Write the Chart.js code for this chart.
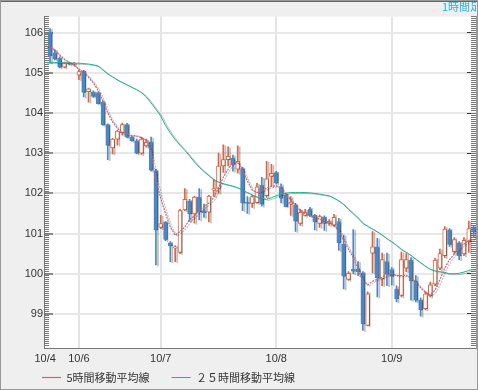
<!DOCTYPE html>
<html><head><meta charset="utf-8">
<script src="https://cdn.jsdelivr.net/npm/chart.js@4.4.1/dist/chart.umd.min.js"></script>
<style>html,body{margin:0;padding:0;background:#efefef;overflow:hidden}</style>
</head><body>
<canvas id="c" width="478" height="390"></canvas>
<script>
// ---- data ----
const dayTickIndex = [0, 7, 24, 48, 72];
const dayLabels = ['10/4', '10/6', '10/7', '10/8', '10/9'];
const opens  = [null,106.02,105.50,105.36,105.14,105.24,105.22,104.94,105.04,104.53,104.52,104.51,104.27,103.71,103.13,103.35,103.51,103.71,103.40,103.31,103.00,103.18,103.28,102.56,101.15,101.29,100.77,100.64,100.53,101.59,101.81,101.49,101.91,101.57,101.53,102.08,102.12,102.68,102.84,102.88,102.60,102.61,101.78,101.75,101.77,102.20,101.94,102.42,102.52,102.16,101.96,101.73,101.70,101.25,101.45,101.61,101.45,101.25,101.41,101.25,101.21,101.30,100.73,99.86,100.11,100.12,100.02,98.71,100.51,100.67,99.87,100.30,100.10,99.62,99.46,100.14,100.34,99.82,99.34,99.13,99.46,99.74,100.14,100.45,101.09,100.55,100.77,100.49,100.80,101.15];
const highs  = [null,106.10,105.57,105.40,105.27,105.27,105.26,105.06,105.06,104.62,104.55,104.53,104.30,103.73,103.37,103.57,103.75,103.74,103.42,103.35,103.40,103.35,103.40,102.60,101.45,101.30,100.80,100.70,101.60,102.12,101.85,101.93,102.12,101.73,101.95,102.34,103.00,103.21,103.16,102.95,103.18,102.65,101.92,101.95,102.25,102.40,102.80,102.72,102.55,102.24,102.00,101.92,101.75,101.60,101.60,101.65,101.48,101.46,101.44,101.35,101.48,101.38,100.96,100.05,101.10,100.30,100.05,99.55,101.05,100.88,100.51,100.51,100.15,99.70,100.54,100.50,100.40,99.95,99.40,99.55,99.79,100.39,100.61,101.17,101.12,100.90,100.80,100.90,101.31,101.20];
const lows   = [null,105.25,105.32,105.12,105.12,105.20,105.19,104.83,104.40,104.27,104.39,104.22,103.69,102.84,102.98,103.20,103.45,103.38,103.29,102.98,102.97,103.15,102.55,100.22,101.12,100.82,100.30,100.30,100.50,101.57,101.30,101.26,101.34,101.40,101.29,101.93,102.00,102.52,102.68,102.55,102.50,101.57,101.50,101.65,101.75,101.68,101.90,102.18,102.23,101.76,101.66,101.45,101.05,101.20,101.43,101.42,101.09,101.15,101.08,101.20,101.18,100.58,99.62,99.83,100.00,99.95,98.59,98.70,100.02,99.42,99.70,99.70,99.72,99.30,99.42,100.05,99.34,99.30,98.94,99.10,99.42,99.70,100.10,100.40,100.68,100.50,100.35,100.45,100.53,100.90];
const closes = [null,105.42,105.34,105.14,105.24,105.22,105.23,105.03,104.51,104.60,104.41,104.23,103.71,103.19,103.35,103.55,103.71,103.40,103.31,103.00,103.35,103.27,102.58,101.09,101.25,100.85,100.69,100.67,101.57,101.85,101.49,101.91,101.54,101.52,101.93,102.12,102.68,102.84,102.92,102.72,102.80,101.76,101.75,101.92,102.16,101.73,102.36,102.50,102.26,101.88,101.67,101.78,101.31,101.53,101.53,101.45,101.29,101.42,101.25,101.30,101.40,100.77,99.94,100.01,100.06,100.05,98.75,99.50,100.67,99.90,100.35,99.98,99.93,99.38,100.35,100.35,99.82,99.34,99.10,99.50,99.72,100.34,100.50,101.11,100.73,100.85,100.45,100.83,101.12,101.04];
const ma5  = [105.66,105.67,105.55,105.44,105.33,105.26,105.18,105.09,105.01,104.89,104.75,104.56,104.30,104.00,103.78,103.62,103.51,103.47,103.44,103.43,103.39,103.32,103.00,102.35,101.88,101.50,101.16,100.96,101.05,101.16,101.35,101.44,101.57,101.67,101.76,101.89,102.14,102.40,102.60,102.78,102.77,102.57,102.31,102.08,102.02,102.07,102.13,102.17,102.19,102.13,101.97,101.84,101.69,101.57,101.50,101.45,101.40,101.36,101.32,101.28,101.19,101.07,100.83,100.61,100.40,100.10,99.82,99.72,99.81,99.86,99.91,99.97,100.01,99.95,99.95,99.96,99.89,99.78,99.65,99.53,99.47,99.59,99.85,100.14,100.35,100.49,100.65,100.74,100.83,100.85];
const ma25 = [105.26,105.26,105.26,105.25,105.25,105.25,105.24,105.24,105.23,105.22,105.20,105.17,105.07,104.97,104.90,104.82,104.76,104.70,104.64,104.58,104.51,104.40,104.25,104.09,103.92,103.69,103.50,103.34,103.20,103.07,102.93,102.78,102.65,102.54,102.44,102.34,102.28,102.24,102.21,102.18,102.14,102.07,102.02,101.96,101.91,101.88,101.85,101.89,101.94,101.98,102.00,102.02,102.02,102.02,102.02,102.01,102.00,101.98,101.96,101.94,101.88,101.81,101.72,101.60,101.49,101.38,101.25,101.18,101.11,101.04,100.96,100.87,100.79,100.70,100.60,100.53,100.45,100.36,100.27,100.18,100.11,100.07,100.05,100.03,100.00,100.00,100.01,100.04,100.08,100.11];
const seriesNames = ['5時間移動平均線', '２５時間移動平均線'];
const timeframeLabel = '1時間足';

// ---- build library datasets ----
const BLUE = '#4a87c5', RED = '#e0623e';
const idx = opens.map((o, i) => i).filter(i => opens[i] !== null);
const isUp = idx.map(i => closes[i] >= opens[i]);
const wickData = idx.map(i => ({x: i, y: [lows[i], highs[i]]}));
const bodyData = idx.map(i => ({x: i, y: [opens[i], closes[i]]}));

const bgPlugin = {
  id: 'bg',
  beforeDraw(chart) {
    const {ctx, chartArea: a} = chart;
    ctx.save();
    ctx.fillStyle = '#efefef';
    ctx.fillRect(0, 0, chart.width, chart.height);
    ctx.fillStyle = '#ffffff';
    ctx.fillRect(a.left, a.top, a.right - a.left, a.bottom - a.top);
    ctx.restore();
  },
  beforeDatasetDraw(chart, args) {
    const ctx = chart.ctx;
    ctx.save();
    ctx.shadowColor = 'rgba(0,0,0,0.25)';
    ctx.shadowOffsetX = 2;
    ctx.shadowOffsetY = 1;
    ctx.shadowBlur = 0;
  },
  afterDatasetDraw(chart) { chart.ctx.restore(); },
  afterDraw(chart) {
    const {ctx, chartArea: a} = chart;
    ctx.save();
    ctx.beginPath();
    ctx.rect(a.left, 0, a.right - a.left, a.bottom);
    ctx.clip();
    ctx.fillStyle = '#2aaee6';
    ctx.font = '11px "Noto Sans CJK JP", sans-serif';
    ctx.textBaseline = 'top';
    ctx.fillText(timeframeLabel, 442, 1);
    ctx.restore();
    ctx.save();
    ctx.strokeStyle = '#666';
    ctx.lineWidth = 2;
    ctx.beginPath(); ctx.moveTo(0, 1); ctx.lineTo(chart.width, 1); ctx.stroke();
    ctx.strokeStyle = '#999';
    ctx.lineWidth = 1;
    ctx.strokeRect(0.5, 0.5, chart.width - 1, chart.height - 1);
    ctx.restore();
  }
};

const YMIN = 98.15, YMAX = 106.4;
const baseFont = {family: '"Liberation Sans", Arial, "Noto Sans CJK JP", sans-serif', size: 11};

new Chart(document.getElementById('c'), {
  type: 'bar',
  data: {
    datasets: [
      {type: 'line', label: seriesNames[0], data: ma5.map((v, i) => ({x: i, y: v})),
       borderColor: '#c8647c', borderWidth: 1.2, borderDash: [2, 1], pointRadius: 0, tension: 0, order: 0},
      {type: 'line', label: seriesNames[1], data: ma25.map((v, i) => ({x: i, y: v})),
       borderColor: '#22b296', borderWidth: 1, pointRadius: 0, tension: 0, order: 0},
      {label: 'body', data: bodyData, barThickness: 4, grouped: false, order: 1,
       backgroundColor: c => isUp[c.dataIndex] ? '#ffffff' : BLUE,
       borderColor: c => isUp[c.dataIndex] ? RED : BLUE,
       borderWidth: 1, borderSkipped: false},
      {label: 'wick', data: wickData, barThickness: 1, grouped: false, order: 2,
       backgroundColor: c => isUp[c.dataIndex] ? RED : BLUE, borderWidth: 0}
    ]
  },
  options: {
    responsive: false,
    animation: false,
    layout: {padding: {top: 2, left: 20, right: 0, bottom: 0}},
    plugins: {
      tooltip: {enabled: false},
      legend: {
        position: 'bottom', align: 'start', maxHeight: 40,
        labels: {
          filter: it => it.datasetIndex < 2,
          usePointStyle: true, pointStyle: 'line', pointStyleWidth: 19,
          padding: 22, color: '#333',
          font: {family: '"Noto Sans CJK JP", sans-serif', size: 11}
        }
      }
    },
    scales: {
      x: {
        type: 'linear', min: -0.25, max: 89.5, position: 'bottom', offset: false,
        afterBuildTicks: s => { s.ticks = dayTickIndex.map(v => ({value: v})); },
        afterFit: s => { s.height = 2; },
        ticks: {autoSkip: false, maxRotation: 0, mirror: true, padding: -18, color: '#333', font: baseFont,
          callback: (v) => { const k = dayTickIndex.indexOf(v); return k >= 0 ? dayLabels[k] : ''; }},
        grid: {offset: false, color: c => (c.tick && c.tick.value === dayTickIndex[0]) ? 'rgba(0,0,0,0)' : '#e4e4e4',
               lineWidth: 2, drawTicks: false},
        border: {color: '#777', width: 1}
      },
      y: {
        type: 'linear', position: 'left', min: YMIN, max: YMAX, weight: 1,
        afterBuildTicks: s => { const t = []; for (let v = 99; v <= 106; v++) t.push({value: v}); s.ticks = t; },
        afterFit: s => { s.width = 24; },
        ticks: {padding: 10, color: '#333', font: baseFont, callback: v => String(v)},
        grid: {color: '#e8e8e8', lineWidth: 2, tickLength: -9, tickColor: '#333', tickWidth: 1},
        border: {color: '#777', width: 1}
      },
      yMinor: {
        type: 'linear', position: 'left', min: YMIN, max: YMAX, weight: 0,
        ticks: {display: false, stepSize: 0.05},
        afterFit: s => { s.width = 0; },
        grid: {drawOnChartArea: false, tickLength: -5, tickColor: '#777', tickWidth: 1},
        border: {display: false}
      },
      yR: {
        type: 'linear', position: 'right', min: YMIN, max: YMAX, weight: 1,
        afterBuildTicks: s => { const t = []; for (let v = 99; v <= 106; v++) t.push({value: v}); s.ticks = t; },
        afterFit: s => { s.width = 2; },
        ticks: {display: false},
        grid: {drawOnChartArea: false, tickLength: -9, tickColor: '#333', tickWidth: 1},
        border: {color: '#999', width: 1}
      },
      yRMinor: {
        type: 'linear', position: 'right', min: YMIN, max: YMAX, weight: 0,
        ticks: {display: false, stepSize: 0.05},
        afterFit: s => { s.width = 0; },
        grid: {drawOnChartArea: false, tickLength: -5, tickColor: '#777', tickWidth: 1},
        border: {display: false}
      }
    }
  },
  plugins: [bgPlugin]
});
</script>
</body></html>
